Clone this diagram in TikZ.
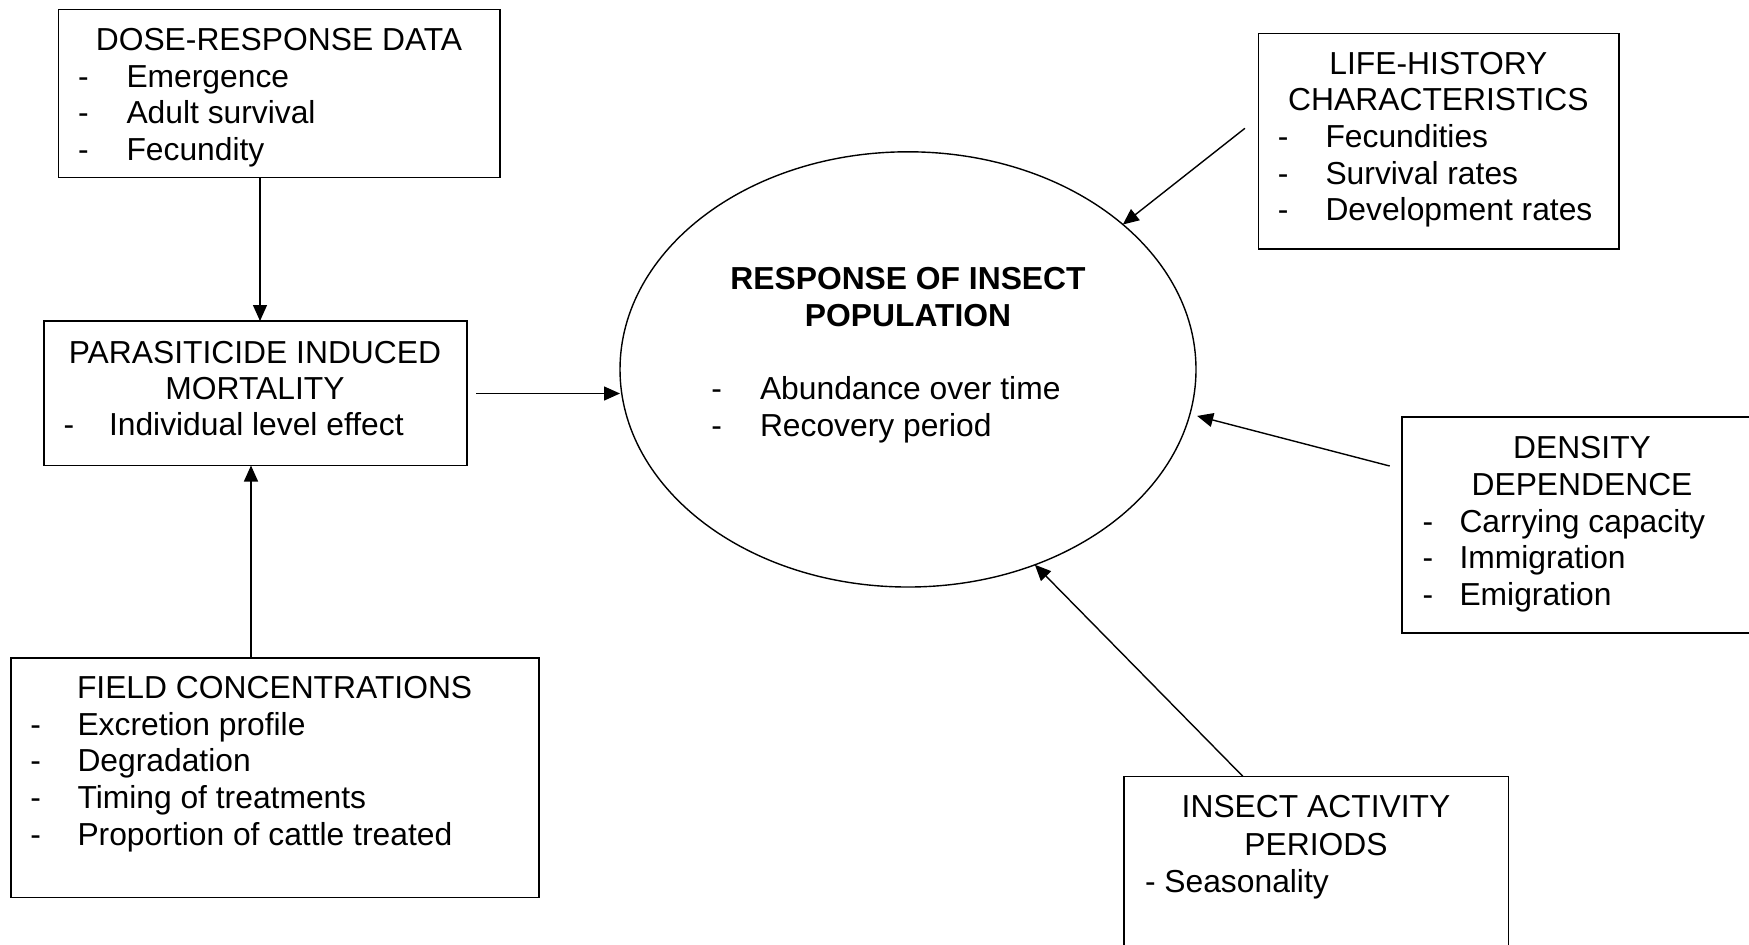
\documentclass[tikz,border=0pt]{standalone}
\usepackage{fontspec}
\setmainfont{Liberation Sans}
\usetikzlibrary{arrows.meta,shapes.geometric,fit}
\begin{document}
\begin{tikzpicture}[x=0.5pt,y=-0.5pt,
  box/.style={draw, line width=0.8pt, inner sep=0pt, outer sep=0pt},
  txt/.style={inner sep=0pt, outer sep=0pt, font=\fontsize{15.9}{18.3}\selectfont},
  ttl/.style={txt, anchor=base},
  btl/.style={txt, anchor=base, font=\fontsize{15.9}{18.3}\selectfont\bfseries},
  itm/.style={txt, anchor=base west},
  arr/.style={line width=0.7pt, -{Triangle[length=8pt,width=7pt]}}]
\useasboundingbox (0,0) rectangle (1749,944);
\begin{scope}
\clip (0,0) rectangle (1749,944);

% boxes
\node[box, fit={(58.3,9.3) (499.7,177.5)}] (dose) {};
\node[box, fit={(44,321) (467,465.5)}] (para) {};
\node[box, fit={(11,657.7) (539,897.5)}] (field) {};
\node[box, fit={(1258.5,33.3) (1619,249)}] (life) {};
\node[box, fit={(1402,417) (1762,633)}] (dens) {};
\node[box, fit={(1124,776.5) (1508.5,980)}] (insect) {};
\node[draw, ellipse, line width=0.7pt, inner sep=0pt, outer sep=0pt,
      minimum width=288pt, minimum height=217.6pt] (pop) at (908,369.4) {};

% DOSE-RESPONSE DATA
\node[ttl] (doseT) at (279,50.3) {DOSE-RESPONSE DATA};
\node[itm] (doseD1) at (78,87.2) {-};
\node[itm] (doseI1) at (126.5,87.2) {Emergence};
\node[itm] (doseD2) at (78,123.8) {-};
\node[itm] (doseI2) at (126.5,123.8) {Adult survival};
\node[itm] (doseD3) at (78,160.4) {-};
\node[itm] (doseI3) at (126.5,160.4) {Fecundity};

% PARASITICIDE
\node[ttl] (paraT1) at (255,363) {PARASITICIDE INDUCED};
\node[ttl] (paraT2) at (255,399.3) {MORTALITY};
\node[itm] (paraD1) at (63.6,435.6) {-};
\node[itm] (paraI1) at (109,435.6) {Individual level effect};

% FIELD CONCENTRATIONS
\node[ttl] (fieldT) at (274.6,698.4) {FIELD CONCENTRATIONS};
\node[itm] (fieldD1) at (30.4,735.2) {-};
\node[itm] (fieldI1) at (77.5,735.2) {Excretion profile};
\node[itm] (fieldD2) at (30.4,771.8) {-};
\node[itm] (fieldI2) at (77.5,771.8) {Degradation};
\node[itm] (fieldD3) at (30.4,808.4) {-};
\node[itm] (fieldI3) at (77.5,808.4) {Timing of treatments};
\node[itm] (fieldD4) at (30.4,845) {-};
\node[itm] (fieldI4) at (77.5,845) {Proportion of cattle treated};

% LIFE-HISTORY
\node[ttl] (lifeT1) at (1438.4,74) {LIFE-HISTORY};
\node[ttl] (lifeT2) at (1438.4,110.6) {CHARACTERISTICS};
\node[itm] (lifeD1) at (1277.8,147.4) {-};
\node[itm] (lifeI1) at (1325.5,147.4) {Fecundities};
\node[itm] (lifeD2) at (1277.8,184) {-};
\node[itm] (lifeI2) at (1325.5,184) {Survival rates};
\node[itm] (lifeD3) at (1277.8,220.8) {-};
\node[itm] (lifeI3) at (1325.5,220.8) {Development rates};

% DENSITY DEPENDENCE
\node[ttl] (densT1) at (1582,458.7) {DENSITY};
\node[ttl] (densT2) at (1582,495.4) {DEPENDENCE};
\node[itm] (densD1) at (1422.6,532.2) {-};
\node[itm] (densI1) at (1459.5,532.2) {Carrying capacity};
\node[itm] (densD2) at (1422.6,568.9) {-};
\node[itm] (densI2) at (1459.5,568.9) {Immigration};
\node[itm] (densD3) at (1422.6,605) {-};
\node[itm] (densI3) at (1459.5,605) {Emigration};

% INSECT ACTIVITY PERIODS
\node[ttl] (insT1) at (1316,817.8) {INSECT ACTIVITY};
\node[ttl] (insT2) at (1316,855) {PERIODS};
\node[itm] (insI1) at (1145,892) {- Seasonality};

% RESPONSE OF INSECT POPULATION
\node[btl] (popT1) at (908,289.2) {RESPONSE OF INSECT};
\node[btl] (popT2) at (908,326.2) {POPULATION};
\node[itm] (popD1) at (711.3,399.2) {-};
\node[itm] (popI1) at (760,399.2) {Abundance over time};
\node[itm] (popD2) at (711.3,436) {-};
\node[itm] (popI2) at (760,436) {Recovery period};

% connectors
\coordinate (xDP) at (260,0);
\draw[arr] (dose.south -| xDP) -- (para.north -| xDP);
\coordinate (xFP) at (251,0);
\draw[arr] (field.north -| xFP) -- (para.south -| xFP);
\coordinate (sPP) at (476,393.5);
\draw[arr] (sPP) -- (sPP -| pop.west);
\coordinate (sLP) at (1244.9,128.3);
\draw[arr] (sLP) -- (pop.34.1);
\coordinate (sDP) at (1389.7,466);
\draw[arr, shorten >=3.75pt] (sDP) -- (pop.-9.7);
\coordinate (xIP) at (1243,0);
\draw[arr] (insect.north -| xIP) -- (pop.-57.9);
\end{scope}
\end{tikzpicture}
\end{document}
